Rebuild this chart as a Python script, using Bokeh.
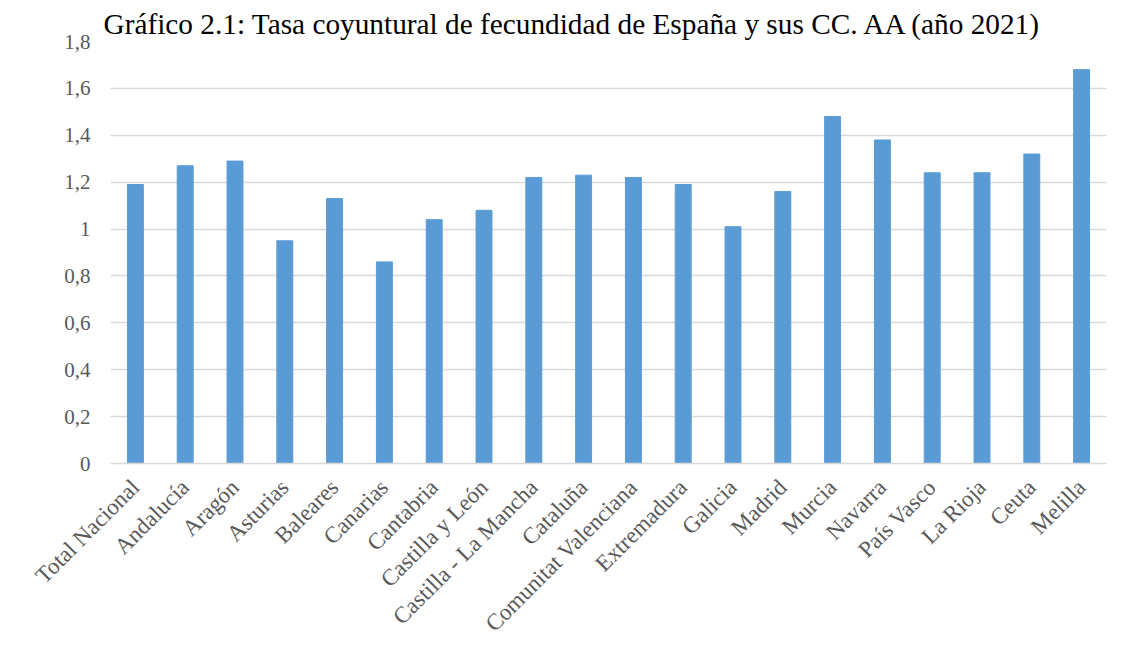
import math
from bokeh.plotting import figure
from bokeh.models import FactorRange, Range1d, FixedTicker
from bokeh.embed import file_html
from bokeh.resources import INLINE

title_text = "Gráfico 2.1: Tasa coyuntural de fecundidad de España y sus CC. AA (año 2021)"

regions = ["Total Nacional", "Andalucía", "Aragón", "Asturias", "Baleares", "Canarias",
           "Cantabria", "Castilla y León", "Castilla - La Mancha", "Cataluña",
           "Comunitat Valenciana", "Extremadura", "Galicia", "Madrid", "Murcia",
           "Navarra", "País Vasco", "La Rioja", "Ceuta", "Melilla"]
fertility = [1.19, 1.27, 1.29, 0.95, 1.13, 0.86, 1.04, 1.08, 1.22, 1.23,
             1.22, 1.19, 1.01, 1.16, 1.48, 1.38, 1.24, 1.24, 1.32, 1.68]

y_ticks = [0, 0.2, 0.4, 0.6, 0.8, 1, 1.2, 1.4, 1.6, 1.8]
y_tick_labels = ["0", "0,2", "0,4", "0,6", "0,8", "1", "1,2", "1,4", "1,6", "1,8"]

FONT = "Liberation Serif"
GRID = "#D9D9D9"
TEXT = "#595959"

p = figure(frame_width=996, frame_height=422, x_range=FactorRange(*regions),
           y_range=Range1d(0, 1.8), output_backend="svg", toolbar_location=None,
           min_border_left=110, min_border_right=1, min_border_top=41,
           min_border_bottom=178, title=title_text)

p.vbar(x=regions, top=fertility, width=0.32, color="#5B9BD5")

p.title.text_font = FONT
p.title.text_font_style = "normal"
p.title.text_font_size = "29.3px"
p.title.text_color = "#000000"
p.title.align = "left"
p.title.offset = -7
p.title.standoff = 0
p.title.vertical_align = "top"

p.outline_line_color = None
p.xgrid.grid_line_color = None
p.ygrid.grid_line_color = GRID
p.ygrid.grid_line_width = 1.5

p.yaxis.ticker = FixedTicker(ticks=y_ticks)
p.yaxis.major_label_overrides = {t: l for t, l in zip(y_ticks, y_tick_labels)}
p.yaxis.axis_line_color = None
p.yaxis.major_tick_line_color = None
p.yaxis.minor_tick_line_color = None
p.yaxis.major_tick_out = 0
p.yaxis.major_label_text_font = FONT
p.yaxis.major_label_text_font_size = "21px"
p.yaxis.major_label_text_color = TEXT
p.yaxis.major_label_standoff = 20

p.xaxis.axis_line_color = GRID
p.xaxis.axis_line_width = 1.5
p.xaxis.major_tick_line_color = None
p.xaxis.minor_tick_line_color = None
p.xaxis.major_tick_out = 0
p.xaxis.major_label_orientation = math.pi / 4
p.xaxis.major_label_text_font = FONT
p.xaxis.major_label_text_font_size = "23px"
p.xaxis.major_label_text_color = TEXT
p.xaxis.major_label_standoff = 20

open("out.html", "w").write(file_html(p, INLINE))
